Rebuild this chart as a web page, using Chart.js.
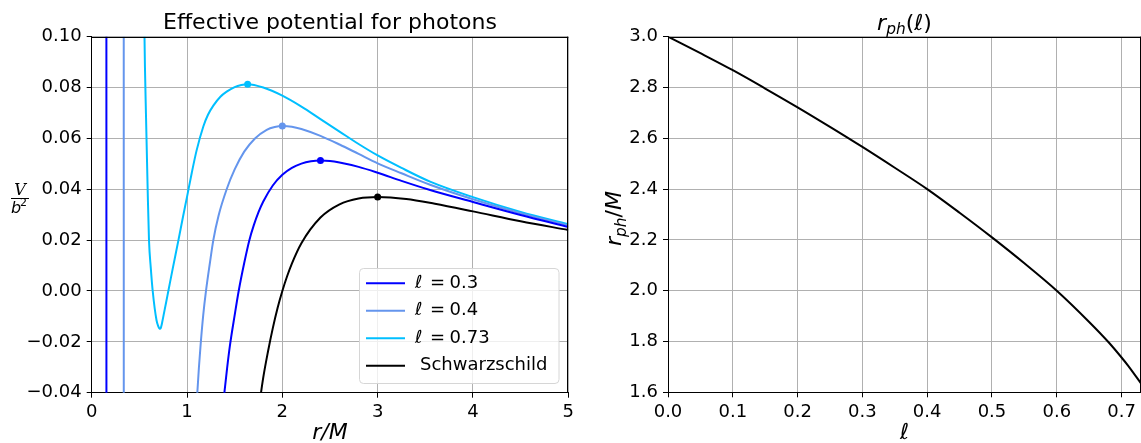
<!DOCTYPE html>
<html>
<head>
<meta charset="utf-8">
<script src="https://cdn.jsdelivr.net/npm/chart.js@4.4.0/dist/chart.umd.min.js"></script>
<style>
  html, body { margin: 0; padding: 0; background: #fff; }
  #wrap { position: relative; width: 1141px; height: 443px; overflow: hidden; }
  canvas { position: absolute; top: 0; }
  #left { left: 0; }
  #right { left: 600px; }
</style>
</head>
<body>
<div id="wrap">
  <canvas id="left" width="600" height="443"></canvas>
  <canvas id="right" width="541" height="443"></canvas>
</div>
<script>
// ---- left panel: effective potential V/b^2 against r/M ----
const rL03 = [0.154, 0.155, 1.37, 1.392, 1.42, 1.45, 1.50, 1.542, 1.60, 1.654, 1.70, 1.75, 1.80, 1.90, 2.0, 2.1, 2.2, 2.3, 2.4, 2.5, 2.6, 2.8, 3.0, 3.25, 3.55, 4.0, 4.5, 5.0];
const vL03 = [0.15, -0.15, -0.047, -0.040, -0.0305, -0.0215, -0.0095, 0.000, 0.011, 0.020, 0.0258, 0.0310, 0.0352, 0.0415, 0.0457, 0.0484, 0.0501, 0.0510, 0.0513, 0.0511, 0.0505, 0.0488, 0.0465, 0.0433, 0.0397, 0.0350, 0.0299, 0.0252];

const rL04 = [0.336, 0.337, 1.09, 1.108, 1.125, 1.143, 1.17, 1.199, 1.24, 1.276, 1.33, 1.416, 1.50, 1.60, 1.713, 1.836, 1.92, 2.0, 2.1, 2.2, 2.4, 2.6, 2.8, 3.0, 3.25, 3.55, 4.0, 4.5, 5.0];
const vL04 = [0.15, -0.15, -0.049, -0.040, -0.030, -0.021, -0.0095, 0.000, 0.011, 0.020, 0.0295, 0.040, 0.0478, 0.0548, 0.0600, 0.0634, 0.0645, 0.0649, 0.0646, 0.0637, 0.0610, 0.0576, 0.0539, 0.0502, 0.0463, 0.0418, 0.0361, 0.0306, 0.0258];

const rL073 = [0.545, 0.554, 0.569, 0.587, 0.601, 0.62, 0.64, 0.68, 0.70, 0.71, 0.72, 0.73, 0.74, 0.76, 0.78, 0.804, 0.85, 0.91, 0.96, 1.0, 1.05, 1.10, 1.171, 1.22, 1.276, 1.35, 1.416, 1.50, 1.57, 1.636, 1.8, 2.0, 2.2, 2.4, 2.6, 2.8, 3.0, 3.25, 3.55, 4.0, 4.5, 5.0];
const vL073 = [0.14, 0.100, 0.070, 0.040, 0.020, 0.009, 0.000, -0.0115, -0.0140, -0.0147, -0.0149, -0.0139, -0.0122, -0.0084, -0.0046, 0.000, 0.0088, 0.020, 0.0296, 0.037, 0.0465, 0.0552, 0.0647, 0.0693, 0.0729, 0.0764, 0.0784, 0.0802, 0.0810, 0.0813, 0.0800, 0.0768, 0.0725, 0.0676, 0.0627, 0.0578, 0.0533, 0.0484, 0.0430, 0.0369, 0.0311, 0.0263];

const rSch = [1.75, 1.8, 1.85, 1.9, 1.95, 2.0, 2.05, 2.1, 2.2, 2.4, 2.6, 2.8, 3.0, 3.3, 3.6, 4.0, 4.5, 5.0];
const vSch = [-0.047, -0.034, -0.0237, -0.0146, -0.0067, 0.0, 0.0058, 0.0108, 0.0188, 0.0289, 0.0341, 0.0364, 0.0370, 0.0362, 0.0343, 0.0313, 0.0274, 0.0240];

// maxima marked with a dot (same order as the series)
const peakR = [2.4, 2.0, 1.636, 3.0];
const peakV = [0.0513, 0.0649, 0.0813, 0.037];

const seriesNames = ['ℓ = 0.3', 'ℓ = 0.4', 'ℓ = 0.73', 'Schwarzschild'];
const seriesColors = ['#0000ff', '#6495ed', '#00bfff', '#000000'];

const xTicksLeft = [0, 1, 2, 3, 4, 5];
const yTicksLeft = [-0.04, -0.02, 0.00, 0.02, 0.04, 0.06, 0.08, 0.10];

// ---- right panel: photon sphere radius against l ----
const ell = [0, 0.05, 0.1, 0.15, 0.2, 0.25, 0.3, 0.35, 0.4, 0.45, 0.5, 0.55, 0.6, 0.65, 0.68, 0.7, 0.71, 0.73];
const rph = [3.0, 2.935, 2.868, 2.796, 2.722, 2.645, 2.566, 2.484, 2.40, 2.307, 2.21, 2.108, 2.0, 1.877, 1.797, 1.737, 1.705, 1.635];
const xTicksRight = [0, 0.1, 0.2, 0.3, 0.4, 0.5, 0.6, 0.7];
const yTicksRight = [1.6, 1.8, 2.0, 2.2, 2.4, 2.6, 2.8, 3.0];

Chart.defaults.font.family = "'DejaVu Sans', sans-serif";
Chart.defaults.color = '#000';

const pairs = (xs, ys) => xs.map((x, i) => ({ x: x, y: ys[i] }));

function fmtMinus(v, d) {
  if (Math.abs(v) < 1e-9) v = 0;
  return v.toFixed(d).replace('-', '\u2212');
}

const gridOpts = { color: '#b0b0b0', lineWidth: 1, tickColor: '#000', tickLength: 5, tickWidth: 1 };
const borderOpts = { color: '#000', width: 1 };

// top and right spines
const frame = {
  id: 'frame',
  afterDraw(chart) {
    const { ctx, chartArea: a } = chart;
    ctx.save();
    ctx.strokeStyle = '#000';
    ctx.lineWidth = 1;
    ctx.beginPath();
    ctx.moveTo(a.left, Math.round(a.top) + 0.5);
    ctx.lineTo(a.right, Math.round(a.top) + 0.5);
    ctx.moveTo(Math.round(a.right) - 0.5, a.top);
    ctx.lineTo(Math.round(a.right) - 0.5, a.bottom);
    ctx.stroke();
    ctx.restore();
  }
};

// draws pieces of text (font, text, baseline shift) one after another
function drawPieces(ctx, parts, x0, y0, center) {
  let w = 0;
  parts.forEach(p => { ctx.font = p.f; p.w = ctx.measureText(p.t).width; w += p.w; });
  let x = center ? x0 - w / 2 : x0;
  parts.forEach(p => { ctx.font = p.f; ctx.fillText(p.t, x, y0 + (p.dy || 0)); x += p.w; });
}

// title, legend box in the lower right and the V/b^2 fraction label
const leftExtras = {
  id: 'leftExtras',
  afterDraw(chart) {
    const ctx = chart.ctx;
    const a = chart.chartArea;
    ctx.save();
    ctx.fillStyle = '#000';
    ctx.textBaseline = 'alphabetic';
    ctx.textAlign = 'center';
    ctx.font = "22px 'DejaVu Sans'";
    ctx.fillText('Effective potential for photons', (a.left + a.right) / 2, 29);

    // y label as a fraction
    ctx.font = "italic 16px 'DejaVu Serif'";
    ctx.fillText('V', 20, 195);
    ctx.fillRect(11, 198, 18, 1);
    ctx.textAlign = 'left';
    ctx.font = "italic 16px 'DejaVu Sans'";
    ctx.fillText('b', 11, 213);
    ctx.font = "11px 'DejaVu Sans'";
    ctx.fillText('2', 20, 206);

    // legend
    const bx = 359.5, by = 268.5, bw = 199.5, bh = 115, rad = 4;
    ctx.beginPath();
    ctx.moveTo(bx + rad, by);
    ctx.arcTo(bx + bw, by, bx + bw, by + bh, rad);
    ctx.arcTo(bx + bw, by + bh, bx, by + bh, rad);
    ctx.arcTo(bx, by + bh, bx, by, rad);
    ctx.arcTo(bx, by, bx + bw, by, rad);
    ctx.closePath();
    ctx.fillStyle = 'rgba(255,255,255,0.8)';
    ctx.fill();
    ctx.strokeStyle = '#d6d6d6';
    ctx.lineWidth = 1;
    ctx.stroke();

    const rows = [283.3, 310.8, 338.3, 365.8];
    ctx.textBaseline = 'middle';
    for (let i = 0; i < 4; i++) {
      const ds = chart.data.datasets[i];
      const y = rows[i];
      ctx.strokeStyle = ds.borderColor;
      ctx.lineWidth = 2;
      ctx.beginPath();
      ctx.moveTo(366, y);
      ctx.lineTo(405, y);
      ctx.stroke();
      ctx.fillStyle = '#000';
      const label = ds.label;
      if (label.startsWith('ℓ')) {
        ctx.font = "italic 18px 'DejaVu Sans'";
        ctx.fillText('ℓ', 415, y);
        ctx.font = "18px 'DejaVu Sans'";
        ctx.fillText('=', 430, y);
        ctx.fillText(label.split('= ')[1], 449.5, y);
      } else {
        ctx.font = "18px 'DejaVu Sans'";
        ctx.fillText(label, 420, y);
      }
    }
    ctx.restore();
  }
};

const lineSets = [[rL03, vL03], [rL04, vL04], [rL073, vL073], [rSch, vSch]].map((s, i) => ({
  label: seriesNames[i],
  data: pairs(s[0], s[1]),
  borderColor: seriesColors[i],
  backgroundColor: seriesColors[i],
  borderWidth: 2,
  pointRadius: 0,
  showLine: true,
  cubicInterpolationMode: 'monotone',
  clip: 0
}));
const peakSets = peakR.map((r, i) => ({
  label: 'peak ' + seriesNames[i],
  data: [{ x: r, y: peakV[i] }],
  backgroundColor: seriesColors[i],
  borderWidth: 0,
  pointRadius: 3.5,
  showLine: false,
  clip: false
}));

new Chart(document.getElementById('left'), {
  type: 'scatter',
  data: { datasets: lineSets.concat(peakSets) },
  options: {
    responsive: false,
    animation: false,
    devicePixelRatio: 1,
    layout: { padding: { left: 0, right: 31.7, top: 36.7, bottom: 0 }, autoPadding: false },
    plugins: { legend: { display: false }, tooltip: { enabled: false } },
    scales: {
      x: {
        type: 'linear', min: 0, max: 5,
        afterFit: s => { s.height = 50.3; },
        afterBuildTicks: s => { s.ticks = xTicksLeft.map(v => ({ value: v })); },
        ticks: { font: { size: 18 }, padding: 4, maxRotation: 0, autoSkip: false, callback: v => String(v) },
        grid: gridOpts, border: borderOpts,
        title: { display: true, text: 'r/M', font: { size: 22, style: 'italic', lineHeight: 0.9 }, padding: { top: 0, bottom: 0 } }
      },
      y: {
        type: 'linear', min: -0.04, max: 0.10,
        afterFit: s => { s.width = 91.7; },
        afterBuildTicks: s => { s.ticks = yTicksLeft.map(v => ({ value: v })); },
        ticks: { font: { size: 18 }, padding: 5, autoSkip: false, callback: v => fmtMinus(v, 2) },
        grid: gridOpts, border: borderOpts
      }
    }
  },
  plugins: [frame, leftExtras]
});

// title and y label with subscripts for the right panel
const rightExtras = {
  id: 'rightExtras',
  afterDraw(chart) {
    const ctx = chart.ctx;
    const a = chart.chartArea;
    ctx.save();
    ctx.fillStyle = '#000';
    ctx.textBaseline = 'alphabetic';
    ctx.textAlign = 'left';
    const big = "22px 'DejaVu Sans'", small = "italic 15.4px 'DejaVu Sans'";
    drawPieces(ctx, [
      { t: 'r', f: 'italic ' + big },
      { t: 'ph', f: small, dy: 4.5 },
      { t: '(', f: big },
      { t: 'ℓ', f: 'italic ' + big },
      { t: ')', f: big }
    ], (a.left + a.right) / 2, 29.5, true);

    ctx.translate(21, (a.top + a.bottom) / 2 + 4);
    ctx.rotate(-Math.PI / 2);
    drawPieces(ctx, [
      { t: 'r', f: 'italic ' + big },
      { t: 'ph', f: small, dy: 4.5 },
      { t: '/', f: big },
      { t: 'M', f: 'italic ' + big }
    ], 0, 0, true);
    ctx.restore();
  }
};

new Chart(document.getElementById('right'), {
  type: 'scatter',
  data: {
    datasets: [{
      label: 'r_ph',
      data: pairs(ell, rph),
      borderColor: '#000',
      borderWidth: 2,
      pointRadius: 0,
      showLine: true,
      cubicInterpolationMode: 'monotone',
      clip: 0
    }]
  },
  options: {
    responsive: false,
    animation: false,
    devicePixelRatio: 1,
    layout: { padding: { left: 0, right: 0, top: 36.7, bottom: 0 }, autoPadding: false },
    plugins: { legend: { display: false }, tooltip: { enabled: false } },
    scales: {
      x: {
        type: 'linear', min: 0, max: 0.73,
        afterFit: s => { s.height = 50.7; },
        afterBuildTicks: s => { s.ticks = xTicksRight.map(v => ({ value: v })); },
        ticks: { font: { size: 18 }, padding: 4, maxRotation: 0, autoSkip: false, callback: v => v.toFixed(1) },
        grid: gridOpts, border: borderOpts,
        title: { display: true, text: 'ℓ', font: { size: 22, style: 'italic', lineHeight: 0.9 }, padding: { top: 0, bottom: 0 } }
      },
      y: {
        type: 'linear', min: 1.6, max: 3.0,
        afterFit: s => { s.width = 68; },
        afterBuildTicks: s => { s.ticks = yTicksRight.map(v => ({ value: v })); },
        ticks: { font: { size: 18 }, padding: 5, autoSkip: false, callback: v => v.toFixed(1) },
        grid: gridOpts, border: borderOpts
      }
    }
  },
  plugins: [frame, rightExtras]
});
</script>
</body>
</html>
